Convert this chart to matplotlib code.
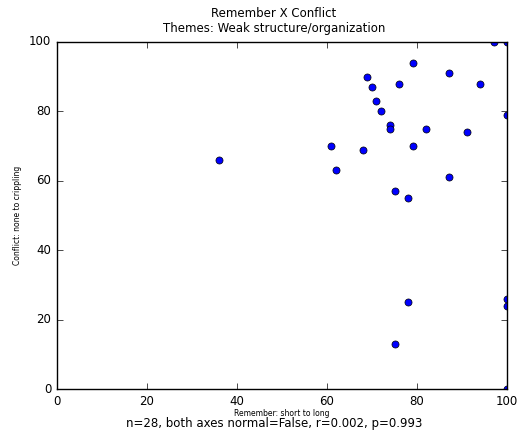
import matplotlib
matplotlib.use('Agg')
import matplotlib.pyplot as plt
import numpy as np

plt.style.use('classic')

# Remember (x) vs Conflict (y)
remember = [36, 61, 62, 68, 69, 70, 71, 72, 74, 74, 76, 75, 78, 79,
            79, 82, 87, 87, 91, 94, 97, 100, 100, 78, 75, 100, 100, 100]
conflict = [66, 70, 63, 69, 90, 87, 83, 80, 76, 75, 88, 57, 55, 94,
            70, 75, 91, 61, 74, 88, 100, 100, 79, 25, 13, 26, 24, 0]

fig = plt.figure(figsize=(5.26, 4.32), dpi=100, facecolor='white')
ax = fig.add_axes([0.108, 0.0995, 0.856, 0.8035])
ax.scatter(remember, conflict, s=26, c='b', edgecolors='k', linewidths=0.5)
ax.set_xlim(0, 100)
ax.set_ylim(0, 100)
ax.set_xticks(np.arange(0, 101, 20))
ax.set_yticks(np.arange(0, 101, 20))
ax.tick_params(labelsize=8.5)
ax.set_xlabel('Remember: short to long', fontsize=5.5, labelpad=1)
ax.set_ylabel('Conflict: none to crippling', fontsize=5.5)

fig.text(0.521, 0.92, 'Remember X Conflict\nThemes: Weak structure/organization',
         ha='center', va='bottom', fontsize=8.5)
fig.text(0.521, 0.004, 'n=28, both axes normal=False, r=0.002, p=0.993',
         ha='center', va='bottom', fontsize=8.5)

fig.savefig('out.png', dpi=100, facecolor='white')
